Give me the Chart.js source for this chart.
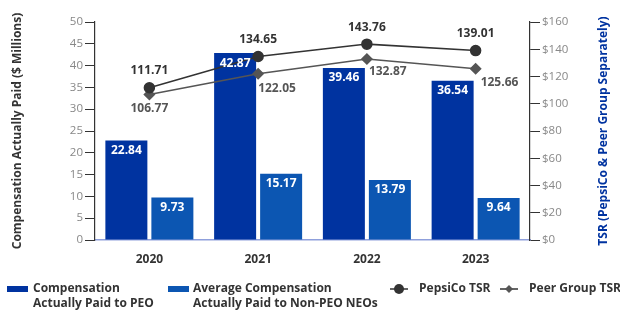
<!DOCTYPE html>
<html>
<head>
<meta charset="utf-8">
<script src="https://cdn.jsdelivr.net/npm/chart.js@4/dist/chart.umd.min.js"></script>
<style>
  html, body { margin: 0; padding: 0; background: #fff; }
  #wrap { width: 620px; height: 310px; }
</style>
</head>
<body>
<div id="wrap"><canvas id="capChart" width="620" height="310"></canvas></div>
<script>
const years = ['2020', '2021', '2022', '2023'];
const peoCap = [22.84, 42.87, 39.46, 36.54];
const neoCap = [9.73, 15.17, 13.79, 9.64];
const pepsiTsr = [111.71, 134.65, 143.76, 139.01];
const peerTsr = [106.77, 122.05, 132.87, 125.66];

const FONT = "'Open Sans', 'DejaVu Sans', sans-serif";
const DARK = '#333333';
const PEO_BLUE = '#0033a0';
const NEO_BLUE = '#0c56b2';

// where each value label sits relative to its point: [dx, dy, align]
const peerLabelPos = [[0, 14, 'center'], [0, 15, 'left'], [2, 13, 'left'], [5, 14, 'left']];

const labelsPlugin = {
    id: 'valueLabels',
    afterDatasetsDraw(chart) {
        const ctx = chart.ctx;
        ctx.save();
        ctx.font = 'bold 12px ' + FONT;
        ctx.textBaseline = 'middle';
        chart.data.datasets.forEach((ds, i) => {
            const meta = chart.getDatasetMeta(i);
            meta.data.forEach((el, j) => {
                const txt = ds.data[j].toFixed(2);
                if (ds.type === 'bar') {
                    ctx.fillStyle = '#ffffff';
                    ctx.textAlign = 'center';
                    ctx.fillText(txt, el.x, el.y + 10);
                } else if (i === 2) {
                    ctx.fillStyle = DARK;
                    ctx.textAlign = 'center';
                    ctx.fillText(txt, el.x, el.y - 17);
                } else {
                    const p = peerLabelPos[j];
                    ctx.fillStyle = '#555555';
                    ctx.textAlign = p[2];
                    ctx.fillText(txt, el.x + p[0], el.y + p[1]);
                }
            });
        });
        ctx.restore();
    },
    afterDraw(chart) {
        const ctx = chart.ctx;
        const area = chart.chartArea;
        const midY = (area.top + area.bottom) / 2;
        ctx.save();
        ctx.textAlign = 'center';
        ctx.textBaseline = 'middle';
        ctx.font = 'bold 12px ' + FONT;
        // axis titles
        ctx.fillStyle = DARK;
        ctx.translate(18, midY);
        ctx.rotate(-Math.PI / 2);
        ctx.fillText('Compensation Actually Paid ($ Millions)', 0, 0);
        ctx.setTransform(1, 0, 0, 1, 0, 0);
        ctx.fillStyle = PEO_BLUE;
        ctx.translate(604, midY);
        ctx.rotate(-Math.PI / 2);
        ctx.fillText('TSR (PepsiCo & Peer Group Separately)', 0, 0);
        ctx.setTransform(1, 0, 0, 1, 0, 0);

        // legend
        const ly = 289;
        ctx.textAlign = 'left';
        ctx.fillStyle = PEO_BLUE;
        ctx.fillRect(7, ly - 3, 21, 6);
        ctx.fillStyle = NEO_BLUE;
        ctx.fillRect(168, ly - 3, 21, 6);
        ctx.fillStyle = DARK;
        ctx.fillText('Compensation', 33, ly);
        ctx.fillText('Actually Paid to PEO', 33, ly + 15);
        ctx.fillText('Average Compensation', 193, ly);
        ctx.fillText('Actually Paid to Non-PEO NEOs', 193, ly + 15);
        ctx.fillText('PepsiCo TSR', 419, ly);
        ctx.fillText('Peer Group TSR', 529, ly);
        ctx.strokeStyle = DARK;
        ctx.lineWidth = 1.5;
        ctx.beginPath();
        ctx.moveTo(390, ly); ctx.lineTo(408, ly);
        ctx.moveTo(500, ly); ctx.lineTo(518, ly);
        ctx.stroke();
        ctx.beginPath();
        ctx.arc(399, ly, 5, 0, Math.PI * 2);
        ctx.fill();
        ctx.fillStyle = '#555555';
        ctx.beginPath();
        ctx.moveTo(509, ly - 4); ctx.lineTo(513, ly); ctx.lineTo(509, ly + 4); ctx.lineTo(505, ly);
        ctx.closePath();
        ctx.fill();
        ctx.restore();
    }
};

const ctx = document.getElementById('capChart').getContext('2d');
new Chart(ctx, {
    data: {
        labels: years,
        datasets: [{
            type: 'bar',
            label: 'Compensation Actually Paid to PEO',
            data: peoCap,
            backgroundColor: PEO_BLUE,
            yAxisID: 'y',
            order: 2,
            barPercentage: 0.913,
            categoryPercentage: 0.846
        }, {
            type: 'bar',
            label: 'Average Compensation Actually Paid to Non-PEO NEOs',
            data: neoCap,
            backgroundColor: NEO_BLUE,
            yAxisID: 'y',
            order: 2,
            barPercentage: 0.913,
            categoryPercentage: 0.846
        }, {
            type: 'line',
            label: 'PepsiCo TSR',
            data: pepsiTsr,
            borderColor: DARK,
            backgroundColor: DARK,
            borderWidth: 1.5,
            pointStyle: 'circle',
            pointRadius: 5,
            yAxisID: 'y1',
            order: 1
        }, {
            type: 'line',
            label: 'Peer Group TSR',
            data: peerTsr,
            borderColor: '#555555',
            backgroundColor: '#555555',
            borderWidth: 1.5,
            pointStyle: 'rectRot',
            pointRadius: 5,
            yAxisID: 'y1',
            order: 1
        }]
    },
    options: {
        responsive: false,
        animation: false,
        layout: { padding: { top: 22, bottom: 40, left: 0, right: 0 } },
        plugins: {
            legend: { display: false },
            tooltip: { enabled: false }
        },
        scales: {
            x: {
                grid: { display: false },
                border: { color: '#8fa0dc', width: 1.5 },
                ticks: { color: DARK, font: { family: FONT, size: 12, weight: 'bold' }, padding: 4 },
                afterFit(s) { s.height = 30; }
            },
            y: {
                position: 'left',
                min: 0, max: 50,
                ticks: { stepSize: 5, color: '#888888', font: { family: FONT, size: 11.5 }, padding: 2 },
                grid: { drawOnChartArea: false, tickLength: 10, color: DARK },
                border: { color: DARK, width: 1.2 },
                afterFit(s) { s.width = 95; }
            },
            y1: {
                position: 'right',
                min: 0, max: 160,
                ticks: { stepSize: 20, color: '#888888', font: { family: FONT, size: 11.5 }, padding: 2,
                    callback: v => '$' + v },
                grid: { drawOnChartArea: false, tickLength: 10, color: DARK },
                border: { color: DARK, width: 1.2 },
                afterFit(s) { s.width = 90; }
            }
        }
    },
    plugins: [labelsPlugin]
});
</script>
</body>
</html>
